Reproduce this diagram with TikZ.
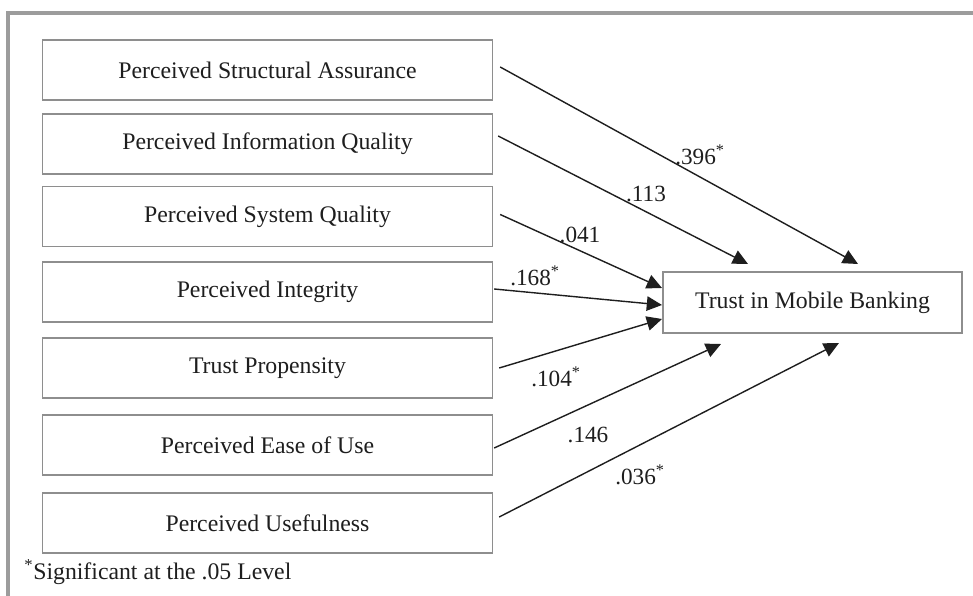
\documentclass[tikz,border=0pt]{standalone}
\usepackage{fontspec}
\setmainfont{Liberation Serif}
\usetikzlibrary{arrows.meta}
\usetikzlibrary{calc}
\definecolor{boxgray}{HTML}{8E8E8E}
\definecolor{framegray}{HTML}{9C9C9C}
\definecolor{ink}{HTML}{1E1E1E}
\tikzstyle{factor}=[rectangle,draw=boxgray,line width=0.9pt,fill=white,minimum width=11.25cm,minimum height=1.5cm,inner sep=0pt,text=ink,font=\fontsize{16.9}{20}\selectfont]
\tikzstyle{outcome}=[factor,minimum width=7.475cm,minimum height=1.525cm]
\tikzstyle{effect} = [draw=ink,line width=1pt,-{Triangle[length=0.38cm,width=0.36cm]}]
\tikzstyle{coef} = [text=ink,inner sep=0pt,font=\fontsize{16.5}{20}\selectfont]

\begin{document}
\begin{tikzpicture}[x=0.025cm,y=-0.025cm]
\useasboundingbox (0,0) rectangle (973,596);

% frame
\draw[framegray,line width=2.2pt] (973,13) -- (8,13) -- (8,596);

% factors
    \foreach \pos/\name/\txt in {{(267.5,70)/psa/Perceived Structural Assurance},
        {(267.5,144)/piq/Perceived Information Quality}, {(267.5,216.5)/psq/Perceived System Quality},
        {(267.5,292)/pin/Perceived Integrity}, {(267.5,368)/tpr/Trust Propensity},
        {(267.5,445)/peu/Perceived Ease of Use}, {(267.5,523)/pus/Perceived Usefulness}}
        \node[factor] (\name) at \pos {\txt};

    \node[outcome] (tmb) at (812.5,302.5) {Trust in Mobile Banking};

% arrow ends
    \foreach \ex/\ey/\name in {858/264/e1, 748/264/e2, 662/288/e3, 662/305/e4,
        662/319/e5, 721/344/e6, 839/343/e7}
        \coordinate (\name) at (\ex,\ey);

    \foreach \source/\dx/\dy/ \dest in {psa/7/-3/e1, piq/5/-8/e2, psq/7/-2/e3, pin/1/-3/e4, tpr/6/0/e5, peu/1/3/e6, pus/6/-6/e7}
        \draw[effect] ($(\source.east)+(\dx,\dy)$) -- (\dest);

% coefficients
    \foreach \pos/\name/\val in {{(700,155)/c1/.396\textsuperscript{*}}, {(646,194)/c2/.113},
        {(580,235)/c3/.041}, {(535,276)/c4/.168\textsuperscript{*}}, {(556,377)/c5/.104\textsuperscript{*}},
        {(588,435)/c6/.146}, {(640,475)/c7/.036\textsuperscript{*}}}
        \node[coef] (\name) at \pos {\val};

  \node[coef,anchor=west,font=\fontsize{16.9}{20}\selectfont] (note) at (24,572) {\textsuperscript{*}Significant at the .05 Level};

\end{tikzpicture}
\end{document}
